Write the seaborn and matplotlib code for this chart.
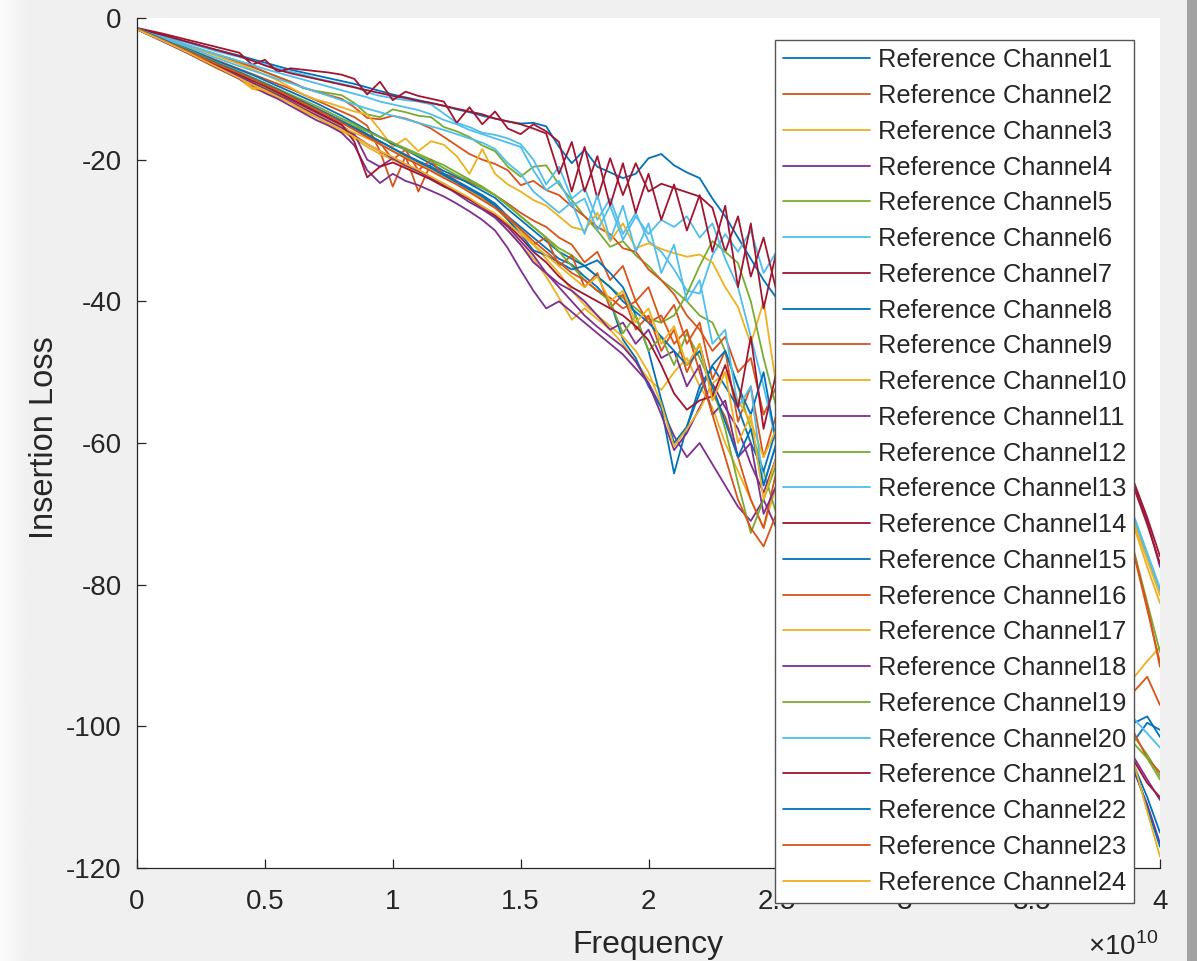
import matplotlib
matplotlib.use("Agg")
import matplotlib.pyplot as plt
from matplotlib.patches import Rectangle
from matplotlib.ticker import FuncFormatter, MultipleLocator
import numpy as np
import pandas as pd
import seaborn as sns

# frequency grid in GHz (coarse at first, then 0.5 GHz, then the far end)
FREQ_GHZ = [0, 1, 2, 3,
            4, 4.5, 5, 5.5, 6, 6.5, 7, 7.5, 8, 8.5,
            9, 9.5, 10, 10.5, 11, 11.5, 12, 12.5, 13, 13.5,
            14, 14.5, 15, 15.5, 16, 16.5, 17, 17.5, 18, 18.5,
            19, 19.5, 20, 20.5, 21, 21.5, 22, 22.5, 23, 23.5,
            24, 24.5, 25, 39, 39.5, 40]

# insertion loss (dB) per reference channel
CH1 = [-1.5, -2.4, -3.4, -4.4,
       -5.3, -5.8, -6.3, -6.8, -7.3, -7.7, -8.1, -8.5, -8.9, -9.3,
       -9.8, -10.3, -10.8, -11.2, -11.6, -12.0, -12.4, -12.9, -13.3, -13.8,
       -14.2, -14.6, -14.9, -14.8, -15.3, -18.2, -20.5, -18.6, -21.0, -21.8,
       -22.6, -22.0, -19.8, -19.2, -20.8, -21.8, -22.6, -25.5, -28.0, -31.0,
       -34.0, -37.0, -39.5, -99.5, -98.6, -101.5]
CH2 = [-1.5, -2.8, -4.3, -5.8,
       -7.2, -7.9, -8.6, -9.3, -10.0, -10.8, -11.6, -12.4, -13.2, -14.0,
       -15.2, -18.8, -23.8, -19.5, -24.5, -20.5, -22.0, -22.6, -23.2, -24.0,
       -25.0, -26.2, -27.5, -28.6, -29.5, -31.0, -32.0, -34.5, -33.0, -37.0,
       -35.0, -40.0, -38.0, -43.0, -40.5, -46.0, -43.0, -51.0, -47.0, -57.0,
       -52.0, -62.0, -56.0, -95.0, -93.0, -97.0]
CH3 = [-1.6, -3.2, -5.0, -6.9,
       -8.6, -10.0, -10.4, -11.2, -12.0, -13.2, -14.0, -15.0, -16.0, -17.0,
       -18.2, -19.2, -20.0, -21.0, -21.8, -22.8, -23.8, -24.6, -25.6, -26.8,
       -28.0, -30.0, -32.0, -34.0, -36.5, -39.5, -42.6, -41.0, -42.5, -44.0,
       -46.0, -48.5, -51.0, -52.5, -50.0, -48.0, -52.0, -55.0, -60.0, -64.0,
       -68.0, -72.0, -66.0, -93.0, -90.8, -88.8]
CH4 = [-1.6, -3.3, -5.0, -6.8,
       -8.6, -9.6, -10.6, -11.4, -12.4, -13.4, -14.4, -15.2, -16.2, -18.0,
       -21.5, -23.3, -22.0, -23.0, -23.6, -24.4, -25.2, -26.2, -27.3, -28.5,
       -30.0, -32.5, -35.6, -38.5, -41.0, -40.0, -41.5, -43.0, -44.5, -46.0,
       -47.5, -49.5, -51.5, -55.0, -59.0, -62.0, -60.0, -63.0, -66.0, -69.0,
       -71.0, -68.0, -72.0, -66.0, -71.0, -77.5]
CH5 = [-1.5, -2.6, -3.9, -5.0,
       -6.1, -6.8, -7.6, -8.3, -9.0, -9.9, -10.3, -10.6, -10.9, -12.0,
       -13.6, -14.0, -12.9, -13.3, -13.8, -14.0, -15.4, -16.0, -16.8, -18.0,
       -18.8, -21.0, -22.4, -21.0, -20.8, -23.5, -25.7, -28.0, -30.0, -32.3,
       -31.5, -33.5, -35.0, -37.0, -38.4, -40.0, -42.0, -43.0, -47.0, -52.0,
       -58.0, -64.0, -70.0, -75.5, -82.5, -89.5]
CH6 = [-1.5, -2.4, -3.5, -4.6,
       -5.5, -6.0, -6.6, -7.1, -7.6, -8.0, -8.5, -8.9, -9.3, -9.7,
       -10.5, -11.0, -11.3, -11.6, -11.8, -12.2, -13.5, -14.8, -15.4, -16.2,
       -16.5, -17.0, -17.8, -20.0, -23.5, -21.0, -25.5, -24.0, -28.5, -25.5,
       -30.5, -27.5, -31.5, -33.0, -35.5, -38.5, -38.9, -33.5, -30.5, -33.0,
       -30.0, -36.0, -33.0, -71.0, -76.0, -81.0]
CH7 = [-1.4, -2.2, -3.1, -4.0,
       -4.9, -6.6, -5.9, -7.6, -7.1, -7.3, -7.5, -7.7, -8.0, -8.6,
       -10.8, -9.0, -11.6, -10.4, -11.0, -11.4, -11.8, -14.8, -12.6, -15.0,
       -13.2, -15.6, -16.4, -15.0, -16.0, -17.5, -24.5, -18.2, -25.5, -19.8,
       -25.0, -20.5, -24.5, -23.4, -24.0, -24.6, -25.2, -26.8, -33.0, -28.0,
       -36.5, -31.0, -38.5, -65.7, -70.5, -76.0]
CH8 = [-1.5, -3.0, -4.6, -6.2,
       -7.6, -8.4, -9.2, -10.0, -10.9, -11.8, -12.7, -13.6, -14.5, -15.4,
       -16.4, -17.4, -18.4, -19.3, -20.2, -21.0, -22.0, -23.0, -24.0, -25.0,
       -26.2, -28.0, -29.5, -31.0, -32.5, -34.0, -34.8, -36.5, -38.0, -40.0,
       -45.4, -48.0, -52.0, -55.0, -64.3, -57.7, -52.0, -49.2, -52.0, -55.0,
       -60.0, -64.0, -58.0, -102.0, -99.5, -100.5]
CH9 = [-1.5, -2.6, -3.9, -5.1,
       -6.3, -6.9, -7.6, -8.3, -9.0, -9.8, -10.4, -10.9, -11.4, -12.6,
       -14.1, -14.3, -13.8, -14.2, -14.8, -15.6, -16.8, -18.0, -19.2, -20.0,
       -20.6, -21.5, -23.6, -23.0, -24.3, -25.0, -26.6, -28.0, -29.5, -30.5,
       -32.5, -33.0, -35.5, -37.0, -39.0, -42.0, -44.0, -47.0, -45.0, -50.0,
       -48.0, -56.0, -52.0, -76.0, -83.5, -91.0]
CH10 = [-1.5, -2.6, -4.0, -5.2,
        -6.5, -7.2, -8.0, -8.8, -9.8, -10.8, -11.5, -12.0, -12.6, -13.2,
        -13.6, -15.8, -18.2, -17.0, -18.8, -17.4, -17.9, -19.5, -22.0, -18.5,
        -22.0, -23.5, -24.5, -25.7, -26.5, -28.0, -29.5, -30.0, -27.5, -31.5,
        -29.0, -32.5, -31.8, -32.6, -33.2, -33.7, -33.4, -34.5, -38.0, -40.8,
        -46.0, -40.0, -52.0, -72.0, -77.5, -82.6]
CH11 = [-1.6, -3.1, -4.8, -6.5,
        -8.1, -9.0, -9.8, -10.7, -11.6, -12.5, -13.4, -14.3, -15.2, -16.4,
        -20.0, -21.0, -19.8, -20.8, -21.6, -22.5, -23.4, -24.5, -25.6, -26.8,
        -28.0, -29.5, -31.5, -33.5, -36.0, -38.0, -40.0, -42.0, -43.6, -45.0,
        -46.4, -48.5, -51.6, -56.0, -61.0, -58.6, -55.0, -51.6, -55.0, -58.0,
        -63.0, -67.0, -62.0, -104.5, -107.5, -110.4]
CH12 = [-1.6, -3.0, -4.6, -6.3,
        -8.0, -8.8, -9.8, -10.6, -11.4, -12.2, -13.0, -13.8, -14.5, -15.3,
        -16.0, -16.8, -17.6, -18.4, -19.2, -20.0, -20.8, -21.8, -22.8, -23.8,
        -25.0, -26.5, -28.0, -29.5, -31.0, -32.5, -33.5, -35.0, -36.5, -38.0,
        -39.5, -41.0, -42.5, -43.0, -42.0, -39.0, -35.0, -31.5, -33.0, -34.6,
        -40.0, -48.0, -55.0, -101.5, -104.0, -107.0]
CH13 = [-1.5, -2.6, -3.8, -5.0,
        -6.1, -6.6, -7.2, -7.7, -8.2, -8.7, -9.2, -9.7, -10.2, -10.7,
        -11.2, -11.8, -12.2, -12.6, -13.0, -13.6, -14.4, -15.0, -15.8, -16.4,
        -17.0, -17.6, -18.2, -21.5, -24.3, -23.0, -26.5, -25.5, -30.0, -26.5,
        -31.3, -28.0, -30.5, -28.5, -29.5, -28.0, -31.0, -29.0, -34.0, -38.0,
        -45.0, -52.0, -60.0, -99.0, -101.0, -103.0]
CH14 = [-1.5, -2.4, -3.4, -4.4,
        -5.4, -6.0, -6.7, -7.3, -7.8, -8.2, -8.6, -9.0, -9.4, -9.8,
        -10.2, -10.6, -11.0, -11.3, -11.7, -12.0, -12.4, -12.8, -13.2, -13.6,
        -14.2, -14.6, -15.0, -15.6, -16.3, -22.0, -17.5, -24.5, -19.5, -26.5,
        -20.5, -27.5, -22.0, -28.5, -23.5, -30.0, -25.0, -33.0, -26.5, -38.0,
        -29.0, -41.0, -33.0, -66.5, -71.5, -77.0]
CH15 = [-1.5, -2.9, -4.4, -5.9,
        -7.3, -8.0, -8.8, -9.6, -10.4, -11.2, -12.0, -12.9, -13.8, -14.8,
        -15.8, -16.8, -17.8, -18.6, -19.6, -20.6, -21.6, -22.4, -23.4, -24.4,
        -25.4, -27.0, -28.5, -30.0, -31.5, -33.0, -34.0, -35.0, -34.2, -36.0,
        -38.0, -42.0, -47.0, -53.9, -60.0, -57.7, -53.0, -49.0, -47.0, -52.0,
        -56.0, -50.0, -60.0, -105.7, -110.0, -115.0]
CH16 = [-1.6, -3.0, -4.7, -6.4,
        -7.9, -8.7, -9.5, -10.4, -11.2, -12.0, -12.8, -13.7, -14.6, -15.6,
        -16.6, -17.6, -20.0, -18.6, -21.5, -20.0, -22.5, -23.2, -24.4, -25.5,
        -26.6, -28.0, -30.0, -32.0, -31.0, -35.0, -33.5, -38.0, -36.0, -41.0,
        -39.0, -44.0, -42.0, -47.0, -44.0, -50.0, -46.0, -53.0, -56.3, -62.0,
        -68.0, -72.0, -64.0, -101.0, -104.5, -106.5]
CH17 = [-1.5, -3.1, -4.8, -6.6,
        -8.4, -9.8, -10.2, -11.0, -11.8, -12.7, -13.6, -14.5, -15.4, -16.2,
        -17.0, -17.8, -18.8, -19.6, -20.5, -21.4, -22.4, -23.4, -24.4, -25.6,
        -26.8, -28.5, -30.0, -32.0, -34.0, -36.0, -38.5, -40.5, -42.0, -43.5,
        -45.0, -47.0, -50.0, -54.5, -60.5, -58.0, -55.3, -51.6, -50.0, -54.0,
        -57.0, -62.0, -58.0, -71.5, -76.5, -81.5]
CH18 = [-1.6, -3.2, -4.9, -6.6,
        -8.3, -9.2, -10.0, -10.9, -11.8, -12.8, -13.7, -14.6, -15.5, -16.6,
        -17.8, -18.8, -19.8, -20.8, -21.6, -22.6, -23.6, -24.8, -26.0, -27.0,
        -28.2, -30.0, -32.0, -34.5, -36.0, -37.5, -38.5, -40.0, -42.0, -44.0,
        -43.0, -46.0, -44.0, -48.0, -47.0, -52.0, -49.0, -56.0, -54.0, -62.0,
        -60.0, -70.0, -66.0, -106.5, -111.0, -116.5]
CH19 = [-1.5, -2.9, -4.5, -6.1,
        -7.6, -8.4, -9.2, -10.0, -10.8, -11.6, -12.4, -13.3, -14.2, -15.0,
        -16.0, -16.8, -17.6, -18.6, -19.4, -20.2, -21.2, -22.2, -23.0, -24.0,
        -25.0, -26.4, -28.0, -29.5, -31.0, -33.0, -35.0, -37.0, -38.5, -40.0,
        -44.5, -42.0, -47.0, -45.0, -49.0, -44.5, -48.0, -52.0, -58.0, -65.7,
        -72.7, -68.0, -63.0, -102.5, -104.5, -107.5]
CH20 = [-1.6, -2.8, -4.1, -5.5,
        -6.8, -7.4, -8.0, -8.6, -9.2, -9.8, -10.4, -11.0, -11.6, -12.2,
        -12.8, -13.3, -13.8, -14.3, -14.8, -15.3, -15.8, -16.4, -17.0, -17.6,
        -18.5, -20.5, -22.0, -24.5, -26.0, -27.5, -26.0, -30.5, -25.0, -31.3,
        -26.5, -33.0, -29.0, -36.0, -32.0, -40.0, -37.0, -46.0, -44.0, -55.0,
        -52.0, -66.0, -60.0, -70.5, -75.5, -80.5]
CH21 = [-1.6, -3.1, -4.8, -6.4,
        -8.0, -8.8, -9.6, -10.5, -11.4, -12.3, -13.2, -14.1, -15.0, -17.5,
        -22.5, -21.0, -20.4, -21.2, -22.0, -22.8, -23.8, -24.6, -25.6, -26.6,
        -27.8, -29.2, -31.0, -33.0, -34.5, -36.5, -38.0, -39.0, -40.0, -41.0,
        -42.0, -43.5, -45.5, -49.0, -53.0, -55.3, -54.0, -53.4, -49.0, -55.0,
        -45.0, -58.0, -50.0, -105.0, -108.0, -110.0]
CH22 = [-1.5, -3.0, -4.6, -6.2,
        -7.7, -8.5, -9.3, -10.1, -11.0, -11.9, -12.8, -13.7, -14.6, -15.5,
        -16.5, -17.4, -18.4, -19.4, -20.3, -21.2, -22.2, -23.2, -24.2, -25.2,
        -26.5, -28.5, -30.5, -32.8, -33.5, -34.5, -35.5, -35.0, -36.5, -38.0,
        -40.0, -41.5, -43.0, -45.0, -47.0, -49.0, -47.0, -52.0, -57.0, -62.0,
        -58.0, -66.0, -60.0, -106.0, -111.5, -117.0]
CH23 = [-1.6, -3.1, -4.7, -6.3,
        -7.8, -8.6, -9.4, -10.2, -11.1, -12.0, -12.9, -13.8, -14.8, -15.8,
        -16.8, -17.8, -18.8, -19.8, -20.7, -21.6, -22.6, -23.5, -24.6, -25.7,
        -26.8, -28.3, -29.8, -31.5, -33.0, -34.5, -36.0, -37.0, -38.5, -39.5,
        -41.0, -40.0, -43.0, -42.0, -46.0, -44.0, -50.0, -56.0, -62.0, -68.0,
        -72.0, -74.6, -70.0, -75.8, -83.0, -91.6]
CH24 = [-1.6, -3.2, -4.9, -6.7,
        -8.5, -9.4, -10.2, -11.1, -12.0, -13.0, -14.0, -14.9, -15.8, -16.8,
        -17.8, -18.8, -19.6, -20.6, -21.4, -22.4, -23.4, -24.4, -25.4, -26.6,
        -27.6, -29.0, -30.5, -32.0, -33.5, -35.0, -36.5, -38.0, -36.5, -40.0,
        -38.5, -43.0, -41.0, -46.0, -43.5, -49.0, -46.0, -54.0, -50.0, -60.0,
        -56.0, -68.0, -62.0, -105.5, -112.0, -118.4]

CHANNELS = [CH1, CH2, CH3, CH4, CH5, CH6, CH7, CH8, CH9, CH10, CH11, CH12,
            CH13, CH14, CH15, CH16, CH17, CH18, CH19, CH20, CH21, CH22, CH23, CH24]
NAMES = [f"Reference Channel{i}" for i in range(1, 25)]

# MATLAB default colour order
MATLAB_COLORS = ["#0072BD", "#D95319", "#EDB120", "#7E2F8E",
                 "#77AC30", "#4DBEEE", "#A2142F"]

freq_hz = np.array(FREQ_GHZ) * 1e9
df = pd.concat(
    [pd.DataFrame({"Frequency": freq_hz, "Loss": vals, "Channel": name})
     for name, vals in zip(NAMES, CHANNELS)],
    ignore_index=True,
)

sns.set_theme(style="ticks")
plt.rcParams["font.family"] = ["Liberation Sans", "DejaVu Sans"]
plt.rcParams["mathtext.fontset"] = "custom"
plt.rcParams["mathtext.rm"] = "Liberation Sans"
plt.rcParams["axes.unicode_minus"] = False

W, H = 1197, 961
fig = plt.figure(figsize=(W / 100, H / 100), dpi=100)
fig.patch.set_facecolor("#f0f0f0")

# screenshot frame: soft shadow on the left, dark strip on the right
shade = fig.add_axes([0, 0, 27 / W, 1])
shade.imshow(np.linspace(0.99, 0.94, 32)[None, :], aspect="auto",
             cmap="gray", vmin=0, vmax=1)
shade.axis("off")
fig.add_artist(Rectangle((1187 / W, 0), 10 / W, 1, transform=fig.transFigure,
                         color="#a2a2a2", lw=0))

ax = fig.add_axes([137 / W, 1 - 868 / H, (1160 - 137) / W, (868 - 18) / H])
ax.set_facecolor("white")

palette = [MATLAB_COLORS[i % 7] for i in range(24)]
for name, color in zip(NAMES, palette):
    sns.lineplot(data=df[df["Channel"] == name], x="Frequency", y="Loss",
                 color=color, linewidth=1.3, label=name, ax=ax,
                 estimator=None, sort=False)

ax.set_xlim(0, 4e10)
ax.set_ylim(-120, 0)
ax.xaxis.set_major_locator(MultipleLocator(0.5e10))
ax.yaxis.set_major_locator(MultipleLocator(20))
ax.xaxis.set_major_formatter(FuncFormatter(lambda v, p: f"{v / 1e10:g}"))

ax.spines["top"].set_visible(False)
ax.spines["right"].set_visible(False)
for s in ("left", "bottom"):
    ax.spines[s].set_color("#262626")
    ax.spines[s].set_linewidth(0.9)
ax.tick_params(direction="in", length=6.5, width=0.9, colors="#262626",
               labelsize=20)
ax.tick_params(axis="x", pad=15)
ax.tick_params(axis="y", pad=11)

ax.set_xlabel("Frequency", fontsize=23, color="#262626")
ax.set_ylabel("Insertion Loss", fontsize=23.5, color="#262626")
ax.xaxis.set_label_coords(0.4995, -0.073)
ax.yaxis.set_label_coords(-0.075, 0.506)

ax.text(0.998, -0.102, "×10$^{10}$", transform=ax.transAxes, ha="right",
        va="baseline", fontsize=20, color="#262626")

leg = ax.legend(loc="upper left", bbox_to_anchor=(0.6237, 0.974),
                borderaxespad=0, fontsize=18.4, frameon=True, fancybox=False,
                edgecolor="#555555", framealpha=1, handlelength=3.4,
                handletextpad=0.3, labelspacing=0.46, borderpad=0.32)
leg.get_frame().set_linewidth(1.0)
for t in leg.get_texts():
    t.set_color("#262626")

fig.savefig("out.png", dpi=100, facecolor=fig.get_facecolor())
